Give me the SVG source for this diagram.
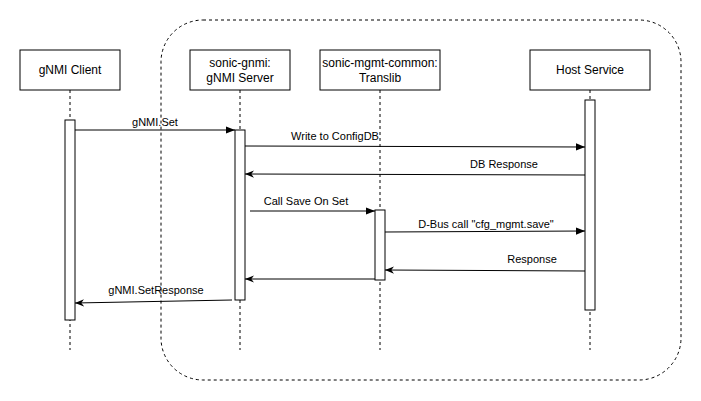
<svg xmlns="http://www.w3.org/2000/svg" width="701" height="401" viewBox="0 0 701 401">
<style>
.box{fill:#fff;stroke:#000;stroke-width:1}
.act{fill:#fff;stroke:#000;stroke-width:1}
.life{stroke:#000;stroke-width:1;stroke-dasharray:3 3;fill:none}
.msg{stroke:#000;stroke-width:1;fill:none}
.t{font-family:"Liberation Sans",Arial,sans-serif;font-size:12px;fill:#000;text-anchor:middle}
.m{font-family:"Liberation Sans",Arial,sans-serif;font-size:11px;fill:#000;text-anchor:middle}
</style>
<defs>
<marker id="block" viewBox="0 0 10 10" refX="10" refY="5" markerWidth="9" markerHeight="9" markerUnits="userSpaceOnUse" orient="auto">
<path d="M0,1 L10,5 L0,9 Z" fill="#000"/>
</marker>
<marker id="classic" viewBox="0 0 10 10" refX="10" refY="5" markerWidth="9" markerHeight="9" markerUnits="userSpaceOnUse" orient="auto">
<path d="M0,1 L10,5 L0,9 L3,5 Z" fill="#000"/>
</marker>
</defs>
<rect x="161" y="20" width="520" height="360" rx="42" ry="42" fill="none" stroke="#000" stroke-width="1" stroke-dasharray="3 3"/>
<g id="lifelines">
<line class="life" x1="70" y1="90" x2="70" y2="350"/>
<line class="life" x1="240" y1="90" x2="240" y2="350"/>
<line class="life" x1="380" y1="90" x2="380" y2="350"/>
<line class="life" x1="590" y1="90" x2="590" y2="350"/>
</g>
<g id="client">
<rect class="box" x="20" y="50" width="100" height="40"/>
<text class="t" x="70" y="74">gNMI Client</text>
<rect class="act" x="65" y="120" width="10" height="200"/>
</g>
<g id="server">
<rect class="box" x="190" y="50" width="100" height="40"/>
<text class="t" x="240" y="67">sonic-gnmi:</text>
<text class="t" x="240" y="82">gNMI Server</text>
<rect class="act" x="235" y="130" width="10" height="170"/>
</g>
<g id="translib">
<rect class="box" x="320" y="50" width="120" height="40"/>
<text class="t" x="380" y="67">sonic-mgmt-common:</text>
<text class="t" x="380" y="82">Translib</text>
<rect class="act" x="375" y="210" width="10" height="70"/>
</g>
<g id="host">
<rect class="box" x="530" y="50" width="120" height="40"/>
<text class="t" x="590" y="74">Host Service</text>
<rect class="act" x="585" y="100" width="10" height="210"/>
</g>
<g id="connectors">
<line class="msg" x1="75" y1="130" x2="235" y2="130" marker-end="url(#block)"/>
<text class="m" x="155" y="126">gNMI.Set</text>
<line class="msg" x1="245" y1="146" x2="585" y2="147" marker-end="url(#block)"/>
<text class="m" x="335" y="140">Write to ConfigDB</text>
<line class="msg" x1="585" y1="175" x2="245" y2="174" marker-end="url(#classic)"/>
<text class="m" x="504" y="168">DB Response</text>
<line class="msg" x1="250" y1="211" x2="375" y2="211" marker-end="url(#block)"/>
<text class="m" x="306" y="205">Call Save On Set</text>
<line class="msg" x1="385" y1="232" x2="585" y2="231" marker-end="url(#block)"/>
<text class="m" x="486" y="228">D-Bus call "cfg_mgmt.save"</text>
<line class="msg" x1="585" y1="271" x2="385" y2="270" marker-end="url(#classic)"/>
<text class="m" x="532" y="263">Response</text>
<line class="msg" x1="375" y1="279" x2="245" y2="279" marker-end="url(#classic)"/>
<line class="msg" x1="232" y1="300" x2="75" y2="303" marker-end="url(#classic)"/>
<text class="m" x="156" y="294">gNMI.SetResponse</text>
</g>
</svg>
